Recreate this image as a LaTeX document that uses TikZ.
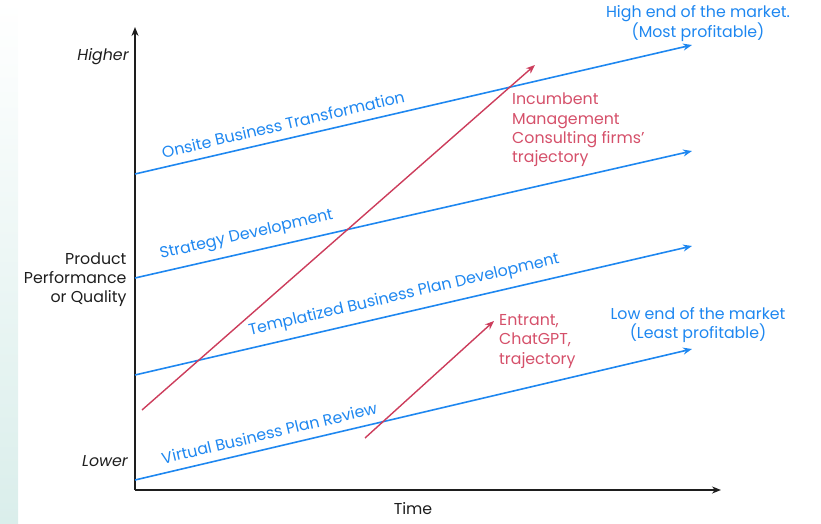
\documentclass[tikz,border=0pt]{standalone}
\usepackage{fontspec}
\setmainfont{Poppins}
\usetikzlibrary{arrows.meta}

\definecolor{mktblue}{HTML}{1E87F0}
\definecolor{trackred}{HTML}{CC3D5C}
\definecolor{tracktext}{HTML}{D5506A}
\definecolor{inkgray}{HTML}{1E1E1E}
\definecolor{stripe}{HTML}{DAEEEB}

\tikzset{
  axis/.style={draw=inkgray, line width=1.8pt},
  market/.style={draw=mktblue, line width=1.6pt},
  track/.style={draw=trackred, line width=1.4pt},
  tiertext/.style={text=mktblue, sloped, above=6pt, inner sep=2pt},
  tracklabel/.style={text=tracktext, align=left, anchor=west, inner sep=2pt},
  endlabel/.style={text=mktblue, align=center, inner sep=2pt},
}

\begin{document}
\begin{tikzpicture}[x=1pt, y=-1pt, >={Stealth[length=9pt,width=7pt]},
    font=\fontsize{15.8}{19.3}\selectfont]
    \useasboundingbox (0,0) rectangle (821,524);
    \shade[top color=white, bottom color=stripe] (0,0) rectangle (18,524);

    % axes
    \coordinate (o) at (135,490);
    \coordinate (ytop) at (135,27);
    \coordinate (xend) at (721,490);
    \draw[axis, ->] (o) -- (ytop);
    \draw[axis, ->] (o) -- (xend);

    \node[text=inkgray] (hi) at (103,57) {\itshape Higher};
    \node[text=inkgray] (lo) at (105,461) {\itshape Lower};
    \node[text=inkgray, align=right, anchor=east] (qual) at (130,279.5)
        {Product\\Performance\\or Quality};
    \node[text=inkgray] (time) at (413,509) {Time};

    % market tiers
    \coordinate (on0) at (135,174);  \coordinate (on1) at (692,45);
    \coordinate (sd0) at (135,278);  \coordinate (sd1) at (692,151);
    \coordinate (tp0) at (135,375);  \coordinate (tp1) at (692,246);
    \coordinate (vr0) at (135,480);  \coordinate (vr1) at (692,349);

    \draw[market, ->] (on0) -- node[tiertext, pos=0.272] {Onsite Business Transformation} (on1);
    \draw[market, ->] (sd0) -- node[tiertext, pos=0.207] {Strategy Development} (sd1);
    \draw[market, ->] (tp0) -- node[tiertext, pos=0.49] {Templatized Business Plan Development} (tp1);
    \draw[market, ->] (vr0) -- node[tiertext, pos=0.247] {Virtual Business Plan Review} (vr1);

    \node[endlabel] (high) at (698,23.5) {High end of the market.\\(Most profitable)};
    \node[endlabel] (low) at (698,325) {Low end of the market\\(Least profitable)};

    % trajectories
    \coordinate (inc0) at (142,410);  \coordinate (inc1) at (535,65);
    \coordinate (ent0) at (365,438);  \coordinate (ent1) at (494,321);
    \draw[track, ->] (inc0) -- (inc1);
    \draw[track, ->] (ent0) -- (ent1);

    \node[tracklabel] (inc) at (510,130) {Incumbent\\Management\\Consulting firms’\\trajectory};
    \node[tracklabel] (ent) at (497,341.5) {Entrant,\\ChatGPT,\\trajectory};
\end{tikzpicture}
\end{document}
